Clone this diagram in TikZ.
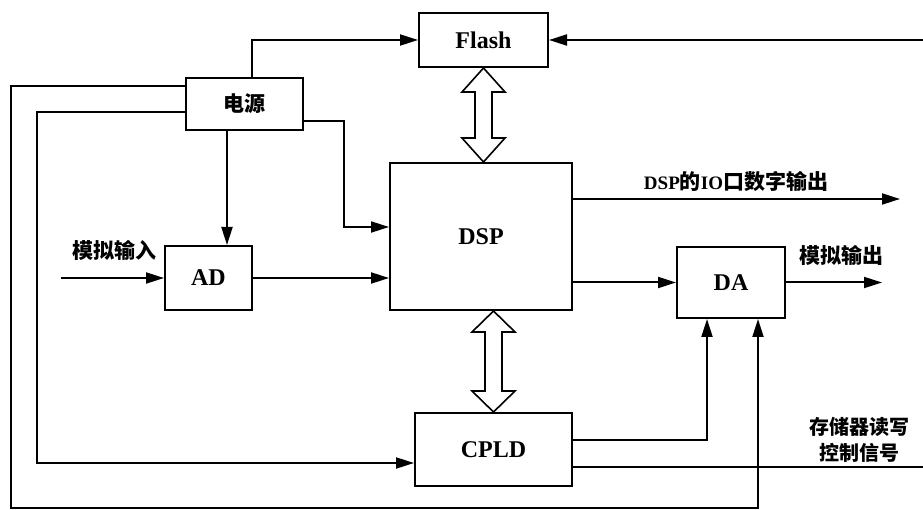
\documentclass[tikz,border=0pt]{standalone}
\usepackage{fontspec}
\setmainfont{Liberation Serif}
\newfontfamily\cjk{Noto Sans CJK SC}
\usetikzlibrary{arrows.meta,calc}
\newcommand{\latbf}{\rmfamily\bfseries\fontsize{19}{20}\selectfont}
% hollow double arrow between two points on one vertical, head length #3
\newcommand{\busarrow}[3]{%
  \draw[bus] (#1) -- ++(21.5,#3) -- ++(-13,0) -- ($(#2)+(8.5,-#3)$) -- ++(13,0) -- (#2)
    -- ++(-21.5,-#3) -- ++(13,0) -- ($(#1)+(-8.5,#3)$) -- ++(-13,0) -- cycle;}

\begin{document}
\begin{tikzpicture}[x=1pt, y=-1pt,
  blk/.style={draw, line width=2pt, inner sep=0pt, font=\fontsize{24}{28}\selectfont\bfseries},
  arr/.style={-{Triangle[length=18pt,width=11pt]}, line width=2pt},
  wire/.style={line width=2pt},
  bus/.style={draw, line width=1.6pt, fill=white, line join=miter},
  lbl/.style={inner sep=0pt, font=\fontsize{21}{26}\selectfont\cjk\bfseries}
]
\useasboundingbox (0,0) rectangle (923,510);
\node[blk, minimum width=129pt, minimum height=54pt] (flash) at (483.5,40) {Flash};
\node[blk, minimum width=117pt, minimum height=52pt, font=\fontsize{21}{24}\selectfont\cjk\bfseries] (power) at (244.5,104) {电源};
\node[blk, minimum width=87pt, minimum height=64pt] (ad) at (208.5,278) {AD};
\node[blk, minimum width=182pt, minimum height=147pt] (dsp) at (481,236.5) {DSP};
\node[blk, minimum width=108pt, minimum height=71pt] (da) at (731,282.5) {DA};
\node[blk, minimum width=157pt, minimum height=73pt] (cpld) at (493.5,449.5) {CPLD};
% free ends and bends
\coordinate (flashin) at (923,40);
\coordinate (ain) at (61,278);
\coordinate (ioout) at (900,199);
\coordinate (daout) at (882,282.5);
\coordinate (memout) at (923,467);
\coordinate (pwrx) at (227,0);
\coordinate (dspx) at (344,227);
\coordinate (cpldx) at (707,0);
\coordinate (dax) at (758,0);
% supply lines
\draw[arr] ([xshift=7.5pt]power.north) |- (flash.west);
\draw[arr] (power.south -| pwrx) -- (ad.north -| pwrx);
\draw[arr] ([yshift=-17pt]power.east) -| (dspx) -- (dspx -| dsp.west);
\draw[arr] ([yshift=-8pt]power.west) -| (37,463) -- ([yshift=-13.5pt]cpld.west);
\draw[arr] ([yshift=18pt]power.west) -| (11,508) -| (da.south -| dax);
% signals
\draw[arr] (flashin) -- (flash.east);
\draw[arr] (ain) -- (ad.west);
\draw[arr] (ad.east) -- (ad.east -| dsp.west);
\draw[arr] ([yshift=37.5pt]dsp.east) -- (ioout);
\draw[arr] (dsp.east |- da.west) -- (da.west);
\draw[arr] (da.east) -- (daout);
\draw[arr] ([yshift=9.5pt]cpld.east) -| (da.south -| cpldx);
\draw[wire] ([yshift=-17.5pt]cpld.east) -- (memout);
% buses
\coordinate (dt) at (flash.south |- dsp.north);
\busarrow{flash.south}{dt}{24}
\coordinate (ds) at (cpld.north |- dsp.south);
\busarrow{ds}{cpld.north}{21}
% labels
\node[lbl] (ainlbl) at (114,250) {模拟输入};
\node[lbl] (iolbl) at (736,181) {{\latbf DSP}的{\latbf IO}口数字输出};
\node[lbl] (daoutlbl) at (841,255) {模拟输出};
\node[lbl, align=center, font=\fontsize{20}{26}\selectfont\cjk\bfseries] (memlbl) at (859,440) {存储器读写\\控制信号};
\end{tikzpicture}
\end{document}
